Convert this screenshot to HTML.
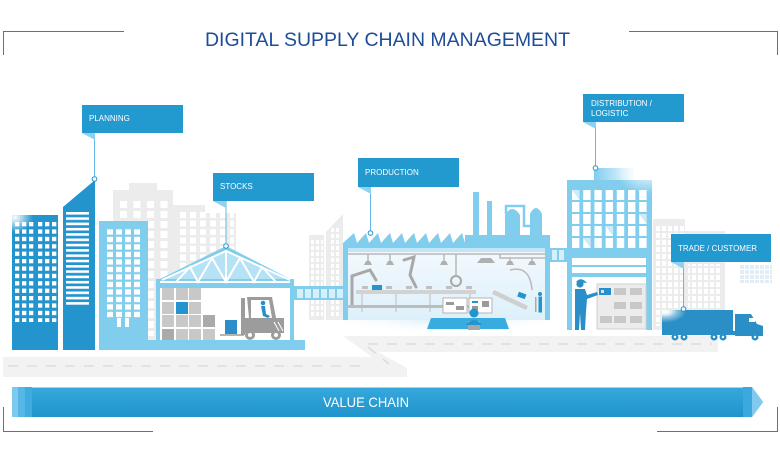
<!DOCTYPE html>
<html><head><meta charset="utf-8"><style>
html,body{margin:0;padding:0;background:#fff;width:780px;height:451px;overflow:hidden}
svg{display:block}
text{font-family:"Liberation Sans",sans-serif}
</style></head><body>
<svg width="780" height="451" viewBox="0 0 780 451" xmlns="http://www.w3.org/2000/svg">
<defs>
<linearGradient id="bar" x1="0" y1="0" x2="0" y2="1"><stop offset="0" stop-color="#36a8dc"/><stop offset="1" stop-color="#1f94cc"/></linearGradient>
<linearGradient id="fac" x1="0" y1="0" x2="0" y2="1"><stop offset="0" stop-color="#f3f9fd"/><stop offset="1" stop-color="#ddf0fa"/></linearGradient>
<linearGradient id="bump" x1="0" y1="0" x2="1" y2="0"><stop offset="0" stop-color="#81cdee"/><stop offset="1" stop-color="#f2fafe"/></linearGradient>
<radialGradient id="glare" cx="0.1" cy="0.1" r="0.6"><stop offset="0" stop-color="#fff"/><stop offset="1" stop-color="#fff" stop-opacity="0"/></radialGradient>
<radialGradient id="glareTR" cx="0.9" cy="0.05" r="0.6"><stop offset="0" stop-color="#fff" stop-opacity="0.95"/><stop offset="1" stop-color="#fff" stop-opacity="0"/></radialGradient>
<radialGradient id="haze" cx="0.5" cy="0.2" r="0.6"><stop offset="0" stop-color="#cfeaf8"/><stop offset="1" stop-color="#fff" stop-opacity="0"/></radialGradient>
<pattern id="pw1" x="15" y="222" width="7" height="7.4" patternUnits="userSpaceOnUse"><rect width="4.3" height="4.3" fill="#fff"/></pattern>
<pattern id="pw1b" x="38" y="222" width="7" height="7.4" patternUnits="userSpaceOnUse"><rect width="4.3" height="4.3" fill="#fff"/></pattern>
<pattern id="ps2" x="66" y="212" width="30" height="5.3" patternUnits="userSpaceOnUse"><rect width="30" height="2.6" fill="#fff"/></pattern>
<pattern id="pw3" x="107" y="229.3" width="9" height="7.5" patternUnits="userSpaceOnUse"><rect width="6" height="5.3" fill="#fff"/></pattern>
<pattern id="pg1" x="120" y="201" width="13.5" height="10" patternUnits="userSpaceOnUse"><rect width="7" height="7" fill="#fff"/></pattern>
<pattern id="pg2" x="180" y="212" width="10" height="8.5" patternUnits="userSpaceOnUse"><rect width="6" height="6" fill="#fff"/></pattern>
<pattern id="pg3" x="311" y="240" width="5" height="6" patternUnits="userSpaceOnUse"><rect width="3" height="4" fill="#fff"/></pattern>
<pattern id="pg4" x="656" y="226" width="6" height="7" patternUnits="userSpaceOnUse"><rect width="4" height="5" fill="#fff"/></pattern>
<pattern id="pbr" x="297" y="289" width="8" height="20" patternUnits="userSpaceOnUse"><rect width="6" height="9" fill="#d6effb"/></pattern>
<pattern id="pdw" x="572" y="190" width="11.2" height="12" patternUnits="userSpaceOnUse"><rect width="7.4" height="10" fill="#fff"/></pattern>
<pattern id="ppx" x="740" y="265" width="5" height="5" patternUnits="userSpaceOnUse"><rect width="4" height="4" fill="#e1eef6"/></pattern>
</defs>

<!-- corner brackets -->
<g stroke="#5b70ab" stroke-width="1" fill="none">
<path d="M3.5 55 V31.5 H124"/>
<path d="M629 31.5 H777.5 V55"/>
<path d="M3.5 407 V431.5 H153"/>
<path d="M657 431.5 H777.5 V407"/>
</g>

<text x="205" y="46" font-size="19.5" fill="#1d4c9a" textLength="365" lengthAdjust="spacingAndGlyphs">DIGITAL SUPPLY CHAIN MANAGEMENT</text>

<!-- background gray buildings -->
<g fill="#ececec">
<path d="M113 190 H129 V183 H157 V190 H173 V340 H113 Z"/>
<rect x="172" y="205" width="33" height="135"/>
<rect x="172" y="213" width="64" height="127"/>
<rect x="309" y="235" width="15" height="85"/>
<path d="M326 232 L343 214 V320 H326 Z"/>
<rect x="653" y="219" width="32" height="111"/>
<rect x="683" y="231" width="42" height="99"/>
</g>
<rect x="120" y="201" width="50" height="135" fill="url(#pg1)"/>
<rect x="180" y="212" width="54" height="120" fill="url(#pg2)"/>
<rect x="311" y="240" width="12" height="76" fill="url(#pg3)"/>
<rect x="329" y="228" width="12" height="88" fill="url(#pg3)"/>
<rect x="656" y="226" width="28" height="100" fill="url(#pg4)"/>
<rect x="688" y="264" width="34" height="62" fill="url(#pg4)"/>
<rect x="740" y="265" width="32" height="18" fill="url(#ppx)"/>

<!-- road -->
<path d="M3 357 H372 L343 336 H718 V352 H378 L407 368 V377 H3 Z" fill="#f2f2f2"/>
<g stroke="#dcdcdc" stroke-width="1.6" stroke-dasharray="10 9">
<line x1="8" y1="366" x2="362" y2="366"/>
<line x1="368" y1="344" x2="712" y2="344"/>
<line x1="368" y1="347" x2="389" y2="364"/>
</g>

<!-- left buildings -->
<rect x="12" y="215" width="46" height="135" fill="#2394cd"/>
<rect x="15" y="222" width="19" height="100" fill="url(#pw1)"/>
<rect x="38" y="222" width="19" height="100" fill="url(#pw1b)"/>
<rect x="12" y="215" width="30" height="25" fill="url(#glare)"/>
<path d="M63 207 L95 180 V350 H63 Z" fill="#2394cd"/>
<rect x="66" y="212" width="23" height="95" fill="url(#ps2)"/>
<rect x="99" y="221" width="49" height="129" fill="#81cdee"/>
<rect x="107" y="229" width="34" height="90" fill="url(#pw3)"/>
<rect x="117" y="318" width="4" height="9" fill="#fff"/>
<rect x="125" y="318" width="4" height="9" fill="#fff"/>

<!-- warehouse -->
<rect x="148" y="340" width="157" height="10" fill="#81cdee"/>
<rect x="156" y="279" width="138" height="61" fill="#81cdee"/>
<polygon points="156,281 226,246 294,281" fill="#81cdee"/>
<polygon points="166,279 226,252 286,279" fill="#b6e2f6"/>
<g stroke="#fff" stroke-width="2" fill="none">
<polyline points="162,280 226,251 290,280"/>
<line x1="160" y1="282" x2="290" y2="282"/>
<polyline points="176,282 190,267 198,282 212,258 226,282 240,258 254,282 262,267 276,282"/>
<line x1="226" y1="251" x2="226" y2="282"/>
</g>
<rect x="160" y="288" width="130" height="52" fill="#fff"/>
<g fill="#c8c8c8">
<rect x="162" y="288" width="12" height="12"/><rect x="176" y="288" width="12" height="12"/><rect x="189" y="288" width="12" height="12"/>
<rect x="162" y="302" width="12" height="12"/><rect x="189" y="302" width="12" height="12"/>
<rect x="162" y="315" width="12" height="12"/><rect x="176" y="315" width="12" height="12"/><rect x="189" y="315" width="12" height="12"/>
<rect x="176" y="329" width="12" height="11"/><rect x="189" y="329" width="12" height="11"/><rect x="203" y="329" width="12" height="11"/>
</g>
<rect x="176" y="302" width="12" height="12" fill="#2394cd"/>
<rect x="203" y="315" width="12" height="12" fill="#aaaaaa"/>
<rect x="162" y="329" width="12" height="11" fill="#aaaaaa"/>
<!-- forklift -->
<rect x="225" y="320" width="12" height="14" fill="#2a8fc8"/>
<line x1="220" y1="335" x2="244" y2="335" stroke="#9c9c9c" stroke-width="1.5"/>
<rect x="241" y="298" width="4" height="37" fill="#9c9c9c"/>
<path d="M247 297 H272 L276 318 H284 V333 H245 V318 H249 Z M251 300 V318 H272 L269 300 Z" fill="#9c9c9c" fill-rule="evenodd"/>
<circle cx="250" cy="335" r="5" fill="#9c9c9c"/><circle cx="250" cy="335" r="2" fill="#fff"/>
<circle cx="276" cy="335" r="5" fill="#9c9c9c"/><circle cx="276" cy="335" r="2" fill="#fff"/>
<circle cx="263" cy="303" r="2.3" fill="#2a8fc8"/>
<path d="M261 306 H265 L266 314 L270 316 L268 318 L263 316 Z" fill="#2a8fc8"/>
<g stroke="#fff" stroke-width="1"><line x1="274" y1="322" x2="279" y2="331"/><line x1="278" y1="322" x2="283" y2="331"/></g>

<!-- bridge left -->
<rect x="294" y="286" width="50" height="14" fill="#81cdee"/>
<rect x="297" y="289" width="46" height="9" fill="url(#pbr)"/>

<!-- factory haze -->
<rect x="340" y="312" width="214" height="28" fill="url(#haze)"/>

<!-- factory -->
<path d="M343 320 V243 L354 233 L357 243 L366 233 L369 243 L378 233 L381 243 L390 233 L393 243 L402 233 L405 243 L414 233 L417 243 L426 233 L429 243 L438 233 L441 243 L450 233 L453 243 L462 233 L465 243 V235 H473 V192 H479 V235 H487 V201 H492 V235 H505 V215 Q512 203 520 215 V235 H530 V214 Q536 202 542 214 V235 H550 V320 Z" fill="#81cdee"/>
<path d="M506 214 V206 H524 V226 H530" stroke="#81cdee" stroke-width="2.5" fill="none"/>
<rect x="348" y="248" width="197" height="72" fill="url(#fac)"/>
<rect x="348" y="248" width="197" height="4" fill="#c3e5f6"/>
<g stroke="#b8b8b8" fill="none" stroke-width="1.5">
<line x1="348" y1="254" x2="545" y2="254"/>
<path d="M500 254 V258 H545"/>
<line x1="368" y1="254" x2="368" y2="261"/><line x1="390" y1="254" x2="390" y2="261"/><line x1="444" y1="254" x2="444" y2="261"/><line x1="510" y1="258" x2="510" y2="261"/><line x1="532" y1="258" x2="532" y2="261"/>
<line x1="456" y1="254" x2="456" y2="276"/>
<path d="M510 270 Q530 265 532 290"/>
</g>
<g fill="#b0b0b0">
<polygon points="364,265 372,265 370,261 366,261"/><polygon points="386,265 394,265 392,261 388,261"/><polygon points="440,265 448,265 446,261 442,261"/><polygon points="506,265 514,265 512,261 508,261"/><polygon points="528,265 536,265 534,261 530,261"/>
<polygon points="477,263 495,263 491,258 481,258"/>
</g>
<!-- robots -->
<g stroke="#a8a8a8" stroke-width="3" fill="none" stroke-linecap="round">
<path d="M352 305 V276 L370 270 L376 280"/>
<path d="M404 260 L414 257 L410 275 L416 287"/>
</g>
<circle cx="456" cy="281" r="5" stroke="#a8a8a8" stroke-width="2" fill="none"/>
<rect x="372" y="285" width="10" height="5" fill="#2394cd"/>
<!-- conveyor -->
<rect x="356" y="290" width="120" height="4" fill="#d2d2d2"/>
<g fill="#c0c0c0"><rect x="362" y="286" width="6" height="3"/><rect x="386" y="286" width="6" height="3"/><rect x="406" y="286" width="6" height="3"/><rect x="426" y="286" width="6" height="3"/><rect x="446" y="286" width="6" height="3"/><rect x="466" y="286" width="6" height="3"/></g>
<g stroke="#c4c4c4" stroke-width="1.2"><line x1="362" y1="294" x2="362" y2="312"/><line x1="396" y1="294" x2="396" y2="312"/><line x1="430" y1="294" x2="430" y2="312"/><line x1="470" y1="294" x2="470" y2="312"/></g>
<rect x="348" y="305" width="124" height="3" fill="#bcbcbc"/>
<path d="M494 290 L528 306 L526 310 L492 294 Z" fill="#cfcfcf"/>
<rect x="518" y="293" width="8" height="5" fill="#2394cd" transform="rotate(20 522 295)"/>
<rect x="535" y="297" width="1.5" height="15" fill="#aaa"/>
<circle cx="540" cy="294" r="2" fill="#2394cd"/>
<rect x="538.5" y="296.5" width="3.5" height="16" fill="#2394cd"/>
<!-- monitors & operator -->
<polygon points="431,318 505,318 509,329 427,329" fill="#38abdf"/>
<rect x="443" y="298" width="24" height="15" fill="#fff" stroke="#b5b5b5"/>
<rect x="469" y="298" width="23" height="15" fill="#fff" stroke="#b5b5b5"/>
<g fill="#9a9a9a"><rect x="446" y="302" width="8" height="3"/><rect x="456" y="306" width="8" height="4"/><rect x="482" y="301" width="7" height="6"/><rect x="472" y="306" width="6" height="4"/></g>
<rect x="472" y="301" width="6" height="2" fill="#2394cd"/>
<rect x="468" y="321" width="12" height="9" fill="#a8a8a8"/>
<circle cx="474" cy="313" r="4.5" fill="#2394cd"/>
<path d="M466 325 Q474 315 482 325 Z" fill="#2394cd"/>

<!-- bridge right -->
<rect x="550" y="248" width="17" height="14" fill="#81cdee"/>
<rect x="552" y="250" width="5" height="10" fill="#d6effb"/><rect x="559" y="250" width="5" height="10" fill="#d6effb"/>

<!-- distribution building -->
<rect x="594" y="168" width="40" height="13" fill="url(#bump)"/>
<rect x="567" y="180" width="85" height="150" fill="#81cdee"/>
<rect x="572" y="190" width="78" height="60" fill="url(#pdw)"/>
<g fill="#cdebf8">
<polygon points="572,190 579.4,190 579.4,200"/>
<polygon points="639.2,214 646.6,214 646.6,224"/>
<polygon points="605.6,226 613,226 613,236"/>
<polygon points="583.2,238 590.6,238 590.6,248"/>
</g>
<rect x="600" y="168" width="52" height="40" fill="url(#glareTR)"/>
<rect x="572" y="258" width="74" height="7" fill="#fff"/>
<rect x="572" y="267" width="74" height="6" fill="#fff"/>
<rect x="572" y="277" width="74" height="53" fill="#fff"/>
<rect x="597" y="284" width="49" height="45" fill="#ececec" stroke="#d0d0d0"/>
<g fill="#c8c8c8">
<rect x="614" y="288" width="12" height="7"/><rect x="630" y="288" width="12" height="7"/>
<rect x="614" y="302" width="12" height="7"/><rect x="630" y="302" width="12" height="7"/>
<rect x="600" y="316" width="12" height="7"/><rect x="614" y="316" width="12" height="7"/><rect x="630" y="316" width="12" height="7"/>
</g>
<rect x="599" y="288" width="12" height="7" fill="#2a8fc8"/>
<rect x="601" y="290" width="3" height="3" fill="#cfe8f6"/>
<g fill="#2a8fc8">
<circle cx="580" cy="284" r="3.6"/>
<path d="M576 282 Q580 277 585 281 L587 283 Z"/>
<path d="M575 289 H585 L587 295 L597 292 L598 295 L587 299 L586 312 L585 330 H581 L580 313 L579 330 H575 L575 311 Z"/>
</g>

<!-- truck -->
<rect x="662" y="310" width="71" height="23" fill="#2b8fc7"/>
<rect x="662" y="310" width="34" height="18" fill="url(#glare)"/>
<rect x="662" y="310" width="20" height="10" fill="url(#glare)"/>
<path d="M735 314 H751 L757 324 L763 326 V336 H735 Z" fill="#2b8fc7"/>
<rect x="749" y="318" width="6" height="4" fill="#fff"/>
<rect x="662" y="331" width="101" height="4" fill="#2b8fc7"/>
<g fill="#2b8fc7"><circle cx="675" cy="337" r="3.5"/><circle cx="684" cy="337" r="3.5"/><circle cx="714" cy="337" r="3.5"/><circle cx="723" cy="337" r="3.5"/><circle cx="755" cy="337" r="3.5"/></g>
<g fill="#fff"><circle cx="675" cy="337" r="1.2"/><circle cx="684" cy="337" r="1.2"/><circle cx="714" cy="337" r="1.2"/><circle cx="723" cy="337" r="1.2"/><circle cx="755" cy="337" r="1.2"/></g>

<!-- labels -->
<g stroke="#63b9e6" stroke-width="1">
<line x1="94.5" y1="133" x2="94.5" y2="177"/>
<line x1="226" y1="201" x2="226" y2="243"/>
<line x1="370.5" y1="187" x2="370.5" y2="231"/>
<line x1="595.5" y1="122" x2="595.5" y2="166"/>
<line x1="683.5" y1="262" x2="683.5" y2="307"/>
</g>
<g fill="#fff" stroke="#2394cd" stroke-width="1">
<circle cx="94.5" cy="179" r="2.3"/><circle cx="226" cy="246" r="2.3"/><circle cx="370.5" cy="233" r="2.3"/><circle cx="595.5" cy="168" r="2.3"/><circle cx="683.5" cy="309" r="2.3"/>
</g>
<g fill="#8dd2f0">
<polygon points="82,133 95,133 95,140"/>
<polygon points="213,201 226,201 226,208"/>
<polygon points="358,187 371,187 371,194"/>
<polygon points="583,122 596,122 596,129"/>
<polygon points="671,262 684,262 684,269"/>
</g>
<g fill="#2299cf">
<rect x="82" y="105" width="101" height="28"/>
<rect x="213" y="173" width="101" height="28"/>
<rect x="358" y="158" width="101" height="29"/>
<rect x="583" y="94" width="101" height="28"/>
<rect x="671" y="234" width="100" height="28"/>
</g>
<g fill="#fff" font-size="8">
<text x="89" y="121">PLANNING</text>
<text x="220" y="189">STOCKS</text>
<text x="365" y="175">PRODUCTION</text>
<text x="591" y="106">DISTRIBUTION /</text>
<text x="591" y="116">LOGISTIC</text>
<text x="678" y="251" textLength="79" lengthAdjust="spacingAndGlyphs">TRADE / CUSTOMER</text>
</g>

<!-- value chain bar -->
<polygon points="12,387 752,387 763,402 752,417 12,417" fill="url(#bar)"/>
<line x1="12" y1="387.5" x2="752" y2="387.5" stroke="#9fd8f2" stroke-width="1"/>
<rect x="12" y="387" width="6" height="30" fill="#7dc9ee"/>
<rect x="18" y="387" width="7" height="30" fill="#55b7e6"/>
<rect x="25" y="387" width="7" height="30" fill="#40abdf"/>
<rect x="743" y="387" width="9" height="30" fill="#3ba9de"/>
<polygon points="752,387 763,402 752,417" fill="#7fcaee"/>
<text x="323" y="407" font-size="14" fill="#fff" textLength="86" lengthAdjust="spacingAndGlyphs">VALUE CHAIN</text>
</svg>
</body></html>
